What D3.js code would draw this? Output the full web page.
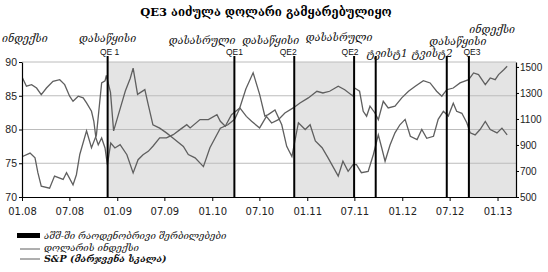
<!DOCTYPE html>
<html>
<head>
<meta charset="utf-8">
<script src="https://cdn.jsdelivr.net/npm/d3@7"></script>
<style>
  body { margin: 0; background: #fff; }
  svg { display: block; }
</style>
</head>
<body>
<svg id="chart" width="548" height="272"></svg>
<script>
/* values */
const dollarDates = ["2008-01-03","2008-02-01","2008-02-20","2008-03-02","2008-03-15","2008-04-16","2008-05-05","2008-06-07","2008-06-20","2008-07-15","2008-07-28","2008-08-10","2008-09-05","2008-09-24","2008-10-13","2008-11-02","2008-11-15","2008-11-20","2008-12-06","2008-12-18","2009-01-13","2009-02-01","2009-02-20","2009-03-03","2009-03-20","2009-04-17","2009-04-30","2009-05-18","2009-06-13","2009-07-09","2009-08-04","2009-09-12","2009-10-01","2009-10-27","2009-11-28","2009-12-23","2010-02-01","2010-03-02","2010-03-28","2010-04-15","2010-05-10","2010-06-07","2010-07-02","2010-07-22","2010-08-04","2010-08-30","2010-09-25","2010-10-14","2010-11-03","2010-11-28","2010-12-24","2011-01-12","2011-02-01","2011-02-27","2011-03-22","2011-04-30","2011-05-18","2011-06-07","2011-06-26","2011-07-09","2011-07-28","2011-08-23","2011-09-12","2011-10-01","2011-10-14","2011-10-27","2011-11-15","2011-12-04","2011-12-23","2012-01-12","2012-02-01","2012-02-27","2012-03-16","2012-04-04","2012-04-30","2012-05-18","2012-06-07","2012-06-26","2012-07-15","2012-07-28","2012-08-17","2012-09-05","2012-09-18","2012-10-07","2012-10-26","2012-11-15","2012-12-04","2012-12-30","2013-01-18","2013-02-07"];
const dollarValues = [76.0,76.5,75.8,73.6,71.6,71.3,73.1,72.6,73.6,71.8,73.3,76.3,79.8,77.3,79.2,86.9,87.2,88.0,85.5,79.8,83.2,85.7,87.6,89.1,85.2,85.9,83.7,80.7,80.2,79.5,78.7,77.5,76.3,75.8,74.5,77.3,80.2,80.7,81.5,83.0,86.0,88.4,85.2,82.0,82.2,82.9,80.7,77.5,76.0,81.0,80.0,80.7,78.3,77.3,75.8,73.1,75.3,73.8,74.8,74.8,73.6,73.8,76.3,79.2,77.3,75.3,77.7,79.5,80.7,81.5,79.0,78.5,80.0,78.7,79.0,81.5,82.7,82.0,83.9,82.7,82.4,81.0,79.5,79.2,80.0,81.2,80.0,79.5,80.2,79.2];

const spDates = ["2008-01-03","2008-01-18","2008-02-07","2008-02-26","2008-03-15","2008-04-04","2008-04-29","2008-05-25","2008-06-13","2008-07-02","2008-07-15","2008-08-04","2008-08-23","2008-09-05","2008-09-24","2008-10-03","2008-10-11","2008-10-20","2008-11-02","2008-11-15","2008-11-24","2008-12-07","2008-12-23","2009-01-12","2009-02-07","2009-03-03","2009-03-22","2009-04-10","2009-04-30","2009-05-18","2009-06-13","2009-07-09","2009-08-04","2009-08-30","2009-09-25","2009-10-08","2009-11-15","2009-12-17","2010-01-19","2010-02-01","2010-02-20","2010-03-16","2010-04-17","2010-05-12","2010-06-01","2010-07-02","2010-07-28","2010-08-17","2010-09-12","2010-10-07","2010-11-08","2010-12-04","2011-01-05","2011-02-07","2011-03-02","2011-03-28","2011-04-30","2011-05-25","2011-06-26","2011-07-02","2011-07-21","2011-08-04","2011-08-17","2011-08-30","2011-09-18","2011-10-01","2011-10-20","2011-11-08","2011-12-04","2011-12-30","2012-01-25","2012-02-20","2012-03-22","2012-04-17","2012-05-12","2012-06-01","2012-06-20","2012-07-15","2012-08-10","2012-09-12","2012-10-01","2012-10-20","2012-11-15","2012-12-04","2012-12-23","2013-01-05","2013-01-25","2013-02-07"];
const spValues = [1415,1352,1364,1338,1287,1338,1390,1402,1364,1275,1236,1275,1262,1223,1159,1082,954,902,954,877,748,915,877,902,825,685,787,825,851,890,954,954,979,1018,1056,1031,1095,1095,1133,1082,1044,1133,1185,1120,1082,1031,1120,1069,1095,1146,1185,1223,1262,1313,1300,1313,1352,1325,1275,1338,1313,1159,1121,1198,1146,1095,1236,1185,1198,1262,1313,1352,1395,1377,1313,1275,1325,1338,1377,1402,1454,1441,1364,1415,1402,1441,1479,1505];

// QE events
const eventDates = ["2008-11-25","2010-03-27","2010-11-12","2011-06-30","2011-09-21","2012-06-20","2012-09-13"];
const qeStarts = ["2008-11-25","2010-11-12","2012-09-13"];
const qeEnds = ["2010-03-27","2011-06-30","2013-03-13"];

const xTicks = ["2008-01-01","2008-07-01","2009-01-01","2009-07-01","2010-01-01","2010-07-01","2011-01-01","2011-07-01","2012-01-01","2012-07-01","2013-01-01"];
const leftTicks = [70, 75, 80, 85, 90];
const rightTicks = [500, 700, 900, 1100, 1300, 1500];

const title = "QE3 აიძულა დოლარი გამყარებულიყო";
const legendLabels = ["აშშ-ში რაოდენობრივი შერბილებები", "დოლარის ინდექსი", "S&P (მარჯვენა სკალა)"];

const parse = d3.timeParse("%Y-%m-%d");
const svg = d3.select("#chart");
const plotLeft = 22, plotRight = 516, plotTop = 62, plotBottom = 197;
const georgian = "'DejaVu Serif', 'DejaVu Sans', serif";
const sans = "'Liberation Sans', Arial, sans-serif";

const x = d3.scaleTime()
  .domain([parse("2008-01-01"), parse("2013-03-13")])
  .range([plotLeft, plotRight]);
const yL = d3.scaleLinear().domain([70, 90]).range([plotBottom, plotTop]);
const yR = d3.scaleLinear().domain([500, 1538]).range([plotBottom, plotTop]);

svg.append("rect").attr("width", 548).attr("height", 272).attr("fill", "#fff");

// shaded QE periods
svg.append("g")
  .selectAll("rect")
  .data(qeStarts.map((s, i) => [parse(s), parse(qeEnds[i])]))
  .enter().append("rect")
    .attr("x", d => x(d[0]))
    .attr("y", plotTop)
    .attr("width", d => x(d[1]) - x(d[0]))
    .attr("height", plotBottom - plotTop)
    .attr("fill", "#e4e4e4");

// gridlines
svg.append("g")
  .selectAll("line")
  .data(leftTicks.slice(1))
  .enter().append("line")
    .attr("x1", plotLeft).attr("x2", plotRight)
    .attr("y1", d => yL(d)).attr("y2", d => yL(d))
    .attr("stroke", "#bcbcbc")
    .attr("stroke-width", 1);

const dollar = dollarDates.map((d, i) => ({date: parse(d), value: dollarValues[i]}));
const sp = spDates.map((d, i) => ({date: parse(d), value: spValues[i]}));

svg.append("path")
  .datum(dollar)
  .attr("fill", "none")
  .attr("stroke", "#5f5f5f")
  .attr("stroke-width", 1.3)
  .attr("d", d3.line().x(d => x(d.date)).y(d => yL(d.value)));

svg.append("path")
  .datum(sp)
  .attr("fill", "none")
  .attr("stroke", "#5f5f5f")
  .attr("stroke-width", 1.3)
  .attr("d", d3.line().x(d => x(d.date)).y(d => yR(d.value)));

// event lines
svg.append("g")
  .selectAll("line")
  .data(eventDates.map(parse))
  .enter().append("line")
    .attr("x1", d => x(d)).attr("x2", d => x(d))
    .attr("y1", 56).attr("y2", plotBottom)
    .attr("stroke", "#000")
    .attr("stroke-width", 2);

// axes
const xAxis = svg.append("g")
  .attr("transform", `translate(0,${plotBottom})`)
  .call(d3.axisBottom(x).tickValues(xTicks.map(parse)).tickFormat(d3.timeFormat("%m.%y")).tickSize(4).tickSizeOuter(0));
xAxis.selectAll("text").attr("font-family", "'DejaVu Sans', sans-serif").attr("font-size", 10).attr("fill", "#222").attr("dy", "1.05em");

const lAxis = svg.append("g")
  .attr("transform", `translate(${plotLeft},0)`)
  .call(d3.axisLeft(yL).tickValues(leftTicks).tickSize(3).tickSizeOuter(0));
lAxis.selectAll("text").attr("font-family", sans).attr("font-size", 10.5).attr("fill", "#222").attr("x", -5);

const rAxis = svg.append("g")
  .attr("transform", `translate(${plotRight},0)`)
  .call(d3.axisRight(yR).tickValues(rightTicks).tickFormat(d3.format("d")).tickSize(3).tickSizeOuter(0));
rAxis.selectAll("text").attr("font-family", sans).attr("font-size", 10).attr("fill", "#222").attr("x", 4);

svg.selectAll(".domain").attr("stroke", "#000").attr("stroke-width", 1.2);
svg.selectAll(".tick line").attr("stroke", "#000");

// title
svg.append("text")
  .attr("x", 266).attr("y", 16)
  .attr("text-anchor", "middle")
  .attr("font-family", georgian)
  .attr("font-weight", "bold")
  .attr("font-size", 11.5)
  .text(title);

// annotations above the plot
const ev = eventDates.map(d => x(parse(d)));
const notes = [
  {text: "ინდექსი", x: 2, y: 42, anchor: "start", it: true},
  {text: "დასაწყისი", x: ev[0], y: 42, anchor: "middle", it: true},
  {text: "QE 1", x: ev[0] + 2, y: 55, anchor: "middle"},
  {text: "დასასრული", x: ev[1] + 1, y: 44, anchor: "end", it: true},
  {text: "QE1", x: ev[1], y: 55, anchor: "middle"},
  {text: "დასაწყისი", x: ev[2] + 5, y: 44, anchor: "end", it: true},
  {text: "QE2", x: ev[2] - 6, y: 55, anchor: "middle"},
  {text: "დასასრული", x: ev[3] - 15, y: 41, anchor: "middle", it: true},
  {text: "QE2", x: ev[3] - 4, y: 55, anchor: "middle"},
  {text: "ტვისტ1", x: ev[4] - 9, y: 57, anchor: "start", it: true},
  {text: "ტვისტ2", x: ev[5] - 35, y: 57, anchor: "start", it: true},
  {text: "QE3", x: ev[6] + 3, y: 55, anchor: "middle"},
  {text: "დასაწყისი", x: ev[6] - 11, y: 45, anchor: "middle", it: true},
  {text: "ინდექსი", x: 515, y: 32.5, anchor: "end", it: true}
];
svg.append("g")
  .selectAll("text")
  .data(notes)
  .enter().append("text")
    .attr("x", d => d.x)
    .attr("y", d => d.y)
    .attr("text-anchor", d => d.anchor)
    .attr("font-family", d => d.it ? georgian : sans)
    .attr("font-style", d => d.it ? "italic" : "normal")
    .attr("font-size", d => d.it ? 10.5 : 8.5)
    .attr("fill", "#111")
    .text(d => d.text);

// legend
const legend = svg.append("g");
legend.append("rect").attr("x", 17).attr("y", 233).attr("width", 23).attr("height", 5).attr("fill", "#000");
legend.selectAll("line")
  .data([249, 259])
  .enter().append("line")
    .attr("x1", 20).attr("x2", 40)
    .attr("y1", d => d).attr("y2", d => d)
    .attr("stroke", "#5f5f5f");
legend.selectAll("text")
  .data(legendLabels)
  .enter().append("text")
    .attr("x", 44)
    .attr("y", (d, i) => 239 + i * 11.5)
    .attr("font-family", georgian)
    .attr("font-style", "italic")
    .attr("font-weight", (d, i) => i === 2 ? "bold" : "normal")
    .attr("font-size", 9.5)
    .attr("fill", "#111")
    .text(d => d);
</script>
</body>
</html>
